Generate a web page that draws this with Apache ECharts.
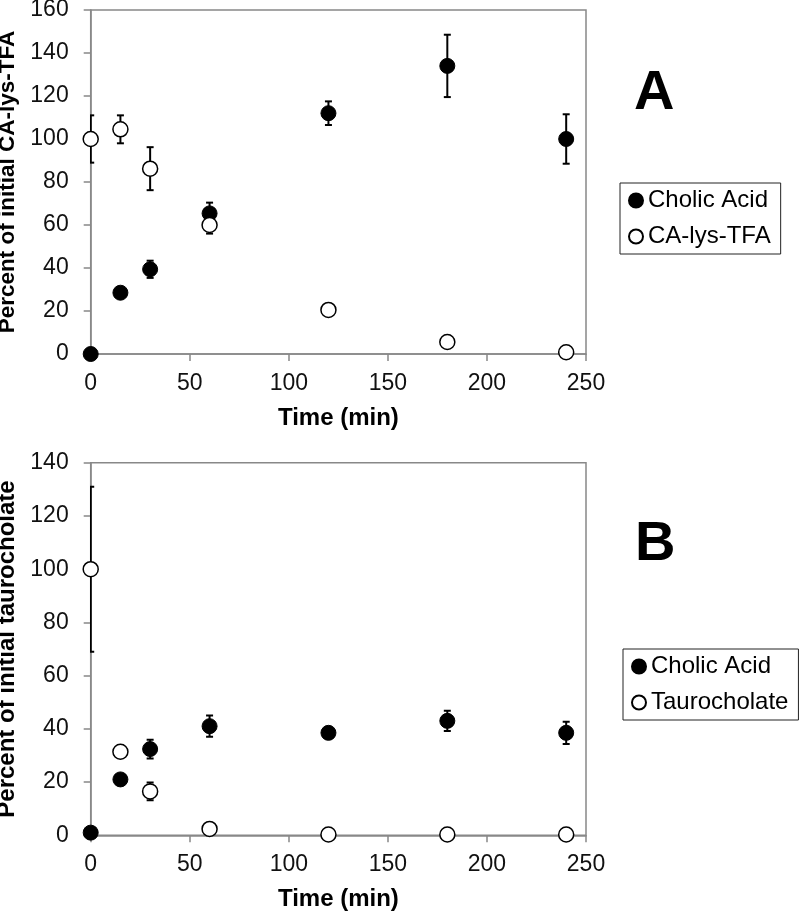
<!DOCTYPE html>
<html>
<head>
<meta charset="utf-8">
<script src="https://cdn.jsdelivr.net/npm/echarts@6/dist/echarts.min.js"></script>
<style>html,body{margin:0;padding:0;background:#fff;}#c{width:800px;height:912px;}</style>
</head>
<body>
<div id="c"></div>
<script>
const times = [0, 15, 30, 60, 120, 180, 240];
// Panel A
const aCholic = [0, 28.5, 39.4, 65.4, 112, 134, 100];
const aCholicErr = [0, 1, 4, 5, 5.5, 14.5, 11.5];
const aCAlys = [100, 104.5, 86.2, 60, 20.5, 5.6, 0.8];
const aCAlysErr = [11, 6.5, 10, 4, 1, 1, 1];
// Panel B
const bCholic = [1, 21, 32.4, 41, 38.5, 43, 38.5];
const bCholicErr = [0.5, 1.5, 3.5, 4, 1, 3.8, 4.2];
const bTauro = [100, 31.4, 16.5, 2.4, 0.3, 0.3, 0.3];
const bTauroErr = [31, 2, 3.3, 1, 0.5, 0.5, 0.5];
const xTicks = [0, 50, 100, 150, 200, 250];
const aYMax = 160, bYMax = 140;

const FONT = 'Liberation Sans, Arial, sans-serif';
const chart = echarts.init(document.getElementById('c'), null, {renderer: 'canvas'});

function pts(ys) { return times.map((t, i) => [t, ys[i]]); }
function errSeries(idx, ys, errs) {
  return {
    type: 'custom', name: 'err' + idx, xAxisIndex: idx, yAxisIndex: idx, clip: true, z: 1, silent: true,
    encode: {x: 0, y: [1, 2]},
    data: times.map((t, i) => [t, ys[i] - errs[i], ys[i] + errs[i]]),
    renderItem: function (params, api) {
      const lo = api.coord([api.value(0), api.value(1)]);
      const hi = api.coord([api.value(0), api.value(2)]);
      const w = 3.5, st = {stroke: '#000', lineWidth: 2};
      return {type: 'group', children: [
        {type: 'line', shape: {x1: lo[0], y1: lo[1], x2: hi[0], y2: hi[1]}, style: st},
        {type: 'line', shape: {x1: lo[0] - w, y1: lo[1], x2: lo[0] + w, y2: lo[1]}, style: st},
        {type: 'line', shape: {x1: hi[0] - w, y1: hi[1], x2: hi[0] + w, y2: hi[1]}, style: st}
      ]};
    }
  };
}
function xAxis(idx) {
  return {
    type: 'value', gridIndex: idx, min: 0, max: 250, interval: 50,
    name: 'Time (min)', nameLocation: 'middle', nameGap: 52,
    nameTextStyle: {fontFamily: FONT, fontSize: 24, fontWeight: 'bold', color: '#000'},
    axisLine: {show: true, lineStyle: {color: '#888', width: 1.5}},
    axisTick: {show: true, inside: false, length: 7, lineStyle: {color: '#888', width: 1.5}},
    axisLabel: {fontFamily: FONT, fontSize: 23, color: '#111', margin: 18},
    splitLine: {show: false}
  };
}
function yAxis(idx, max, name, fs) {
  return {
    type: 'value', gridIndex: idx, min: 0, max: max, interval: 20,
    name: name, nameLocation: 'middle', nameGap: 10,
    nameTextStyle: {fontFamily: FONT, fontSize: fs, fontWeight: 'bold', color: '#000'},
    axisLine: {show: true, lineStyle: {color: '#888', width: 1.5}},
    axisTick: {show: true, inside: false, length: 7, lineStyle: {color: '#888', width: 1.5}},
    axisLabel: {fontFamily: FONT, fontSize: 23, color: '#111', margin: 22},
    splitLine: {show: false}
  };
}
function legend(top, left, names) {
  return {
    data: names, orient: 'vertical', left: left, top: top,
    borderColor: '#222', borderWidth: 1, padding: [4, 10, 4, 8], itemGap: 9,
    itemWidth: 14, itemHeight: 14, icon: 'circle',
    textStyle: {fontFamily: FONT, fontSize: 24, color: '#000', lineHeight: 27},
    selectedMode: false
  };
}
const filled = {color: '#000', borderColor: '#000', borderWidth: 1, opacity: 1};
const open = {color: '#fff', borderColor: '#000', borderWidth: 1.5, opacity: 1};

chart.setOption({
  animation: false,
  backgroundColor: '#fff',
  grid: [
    {left: 90.7, top: 10, width: 495.3, height: 344, show: true, borderColor: '#888', borderWidth: 1.5, backgroundColor: 'transparent', outerBoundsMode: 'none', containLabel: false},
    {left: 90.7, top: 462.7, width: 495.3, height: 372.6, show: true, borderColor: '#888', borderWidth: 1.5, backgroundColor: 'transparent', outerBoundsMode: 'none', containLabel: false}
  ],
  title: [
    {text: 'A', left: 629, top: 61, textStyle: {fontFamily: FONT, fontSize: 56, fontWeight: 'bold', color: '#000'}},
    {text: 'B', left: 630, top: 512, textStyle: {fontFamily: FONT, fontSize: 56, fontWeight: 'bold', color: '#000'}}
  ],
  legend: [
    legend(183, 620, ['Cholic Acid', 'CA-lys-TFA']),
    legend(649, 623, ['Cholic Acid', 'Taurocholate'])
  ],
  xAxis: [xAxis(0), xAxis(1)],
  yAxis: [yAxis(0, aYMax, 'Percent of initial CA-lys-TFA', 22.5), yAxis(1, bYMax, 'Percent of initial taurocholate', 24)],
  series: [
    errSeries(0, aCholic, aCholicErr),
    errSeries(0, aCAlys, aCAlysErr),
    errSeries(1, bCholic, bCholicErr),
    errSeries(1, bTauro, bTauroErr),
    {type: 'scatter', name: 'Cholic Acid', xAxisIndex: 0, yAxisIndex: 0, data: pts(aCholic), symbol: 'circle', symbolSize: 15, itemStyle: filled, z: 3, clip: false},
    {type: 'scatter', name: 'CA-lys-TFA', xAxisIndex: 0, yAxisIndex: 0, data: pts(aCAlys), symbol: 'circle', symbolSize: 15, itemStyle: open, z: 4, clip: false},
    {type: 'scatter', name: 'Cholic Acid', xAxisIndex: 1, yAxisIndex: 1, data: pts(bCholic), symbol: 'circle', symbolSize: 15, itemStyle: filled, z: 3, clip: false},
    {type: 'scatter', name: 'Taurocholate', xAxisIndex: 1, yAxisIndex: 1, data: pts(bTauro), symbol: 'circle', symbolSize: 15, itemStyle: open, z: 4, clip: false}
  ]
});
</script>
</body>
</html>
